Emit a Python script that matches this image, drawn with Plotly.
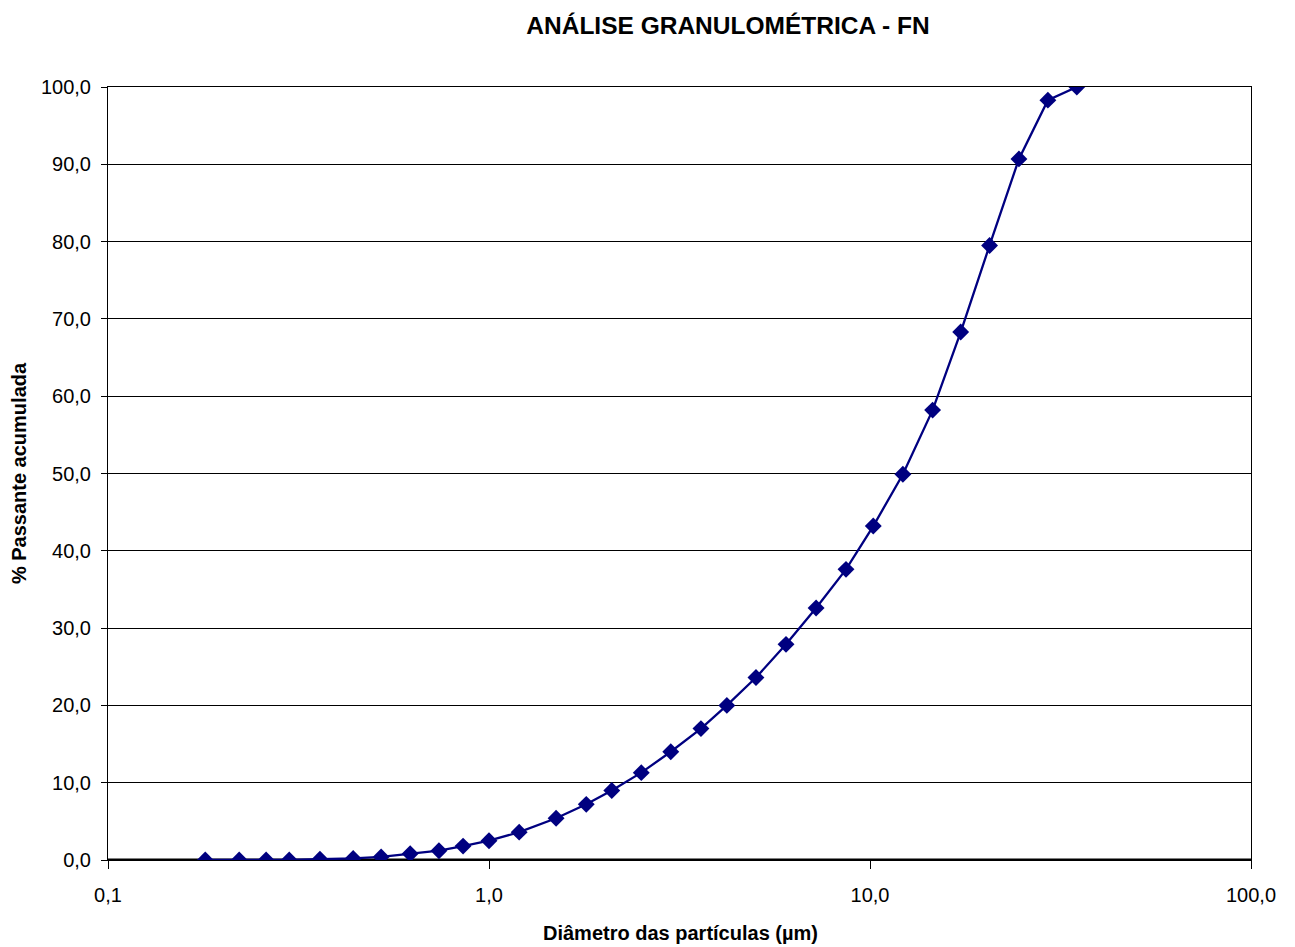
import plotly.graph_objects as go

diametro = [0.180, 0.221, 0.260, 0.299, 0.360, 0.440, 0.521, 0.621, 0.739, 0.855,
            1.00, 1.20, 1.50, 1.80, 2.10, 2.51, 3.00, 3.60, 4.21, 5.02,
            6.02, 7.22, 8.65, 10.2, 12.2, 14.6, 17.3, 20.6, 24.6, 29.3, 34.9]
passante = [0.0, 0.0, 0.0, 0.0, 0.1, 0.2, 0.4, 0.8, 1.2, 1.8,
            2.5, 3.6, 5.4, 7.2, 9.0, 11.3, 14.0, 17.0, 20.0, 23.6,
            27.9, 32.6, 37.6, 43.2, 49.9, 58.2, 68.3, 79.5, 90.7, 98.3, 100.0]

x_tickvals = [0.1, 1, 10, 100]
x_ticktext = ["0,1", "1,0", "10,0", "100,0"]
y_tickvals = [0, 10, 20, 30, 40, 50, 60, 70, 80, 90, 100]
y_ticktext = ["0,0", "10,0", "20,0", "30,0", "40,0", "50,0", "60,0", "70,0", "80,0", "90,0", "100,0"]

FONT = "Liberation Sans, Arial, sans-serif"

fig = go.Figure()
fig.add_trace(go.Scatter(
    x=diametro, y=passante, mode="lines+markers",
    line=dict(color="#000080", width=2.3),
    marker=dict(symbol="diamond", size=13, color="#000080"),
    showlegend=False,
))

W, H = 1279, 939
PL, PR, PT, PB = 100, 1243, 79, 852
fig.update_layout(
    width=W, height=H,
    paper_bgcolor="white", plot_bgcolor="white",
    margin=dict(l=PL, r=W - PR, t=PT, b=H - PB, autoexpand=False),
    font=dict(family=FONT, size=20, color="black"),
    title=dict(text="<b>ANÁLISE GRANULOMÉTRICA - FN</b>", x=720 / W, xanchor="center", xref="container",
               y=1 - 17 / H, yanchor="middle", font=dict(size=24.5, family=FONT)),
)
fig.update_xaxes(
    type="log", range=[-1, 2], automargin=False,
    tickvals=x_tickvals, ticktext=x_ticktext,
    ticks="outside", ticklen=8, tickcolor="black",
    ticklabelstandoff=9,
    showgrid=False, showline=True, linecolor="black", linewidth=1, mirror=True,
    zeroline=False,
    tickfont=dict(size=20),
)
fig.update_yaxes(
    range=[0, 100], automargin=False,
    tickvals=y_tickvals, ticktext=y_ticktext,
    ticks="outside", ticklen=6, tickcolor="black",
    ticklabelstandoff=6,
    showgrid=True, gridcolor="black", gridwidth=1,
    showline=True, linecolor="black", linewidth=1, mirror=True,
    zeroline=False,
    title=dict(text="<b>% Passante acumulada</b>", standoff=14, font=dict(size=20)),
    tickfont=dict(size=20),
)
fig.add_annotation(
    text="<b>Diâmetro das partículas (µm)</b>", showarrow=False,
    xref="paper", yref="paper",
    x=(672 - PL) / (PR - PL), y=(PB - 925) / (PB - PT),
    xanchor="center", yanchor="middle", font=dict(size=20, family=FONT),
)
fig.add_shape(type="line", xref="paper", yref="y", x0=0, x1=1, y0=0, y1=0,
              line=dict(color="black", width=3), layer="below")

fig.write_html("out.html")
